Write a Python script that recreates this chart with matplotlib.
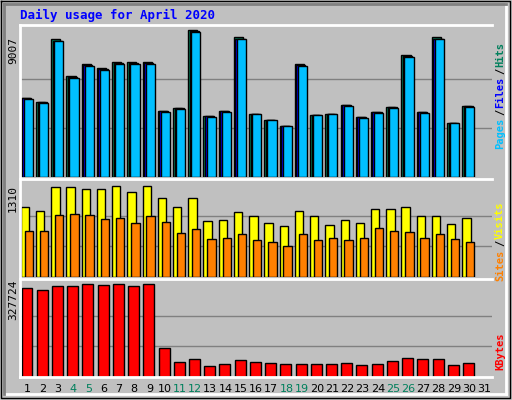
import numpy as np
import matplotlib.pyplot as plt

days = list(range(1, 32))
weekends = [4, 5, 11, 12, 18, 19, 25, 26]
hits = [4870, 4620, 8450, 6170, 6910, 6660, 7030, 7030, 7030, 4070, 4250, 9010,
        3760, 4070, 8570, 3890, 3520, 3150, 6910, 3830, 3890, 4440, 3700, 4010,
        4320, 7460, 4010, 8570, 3330, 4380]
files = [h * 0.99 for h in hits]
pages = [h * 0.985 for h in hits]
visits = [997, 940, 1282, 1282, 1254, 1254, 1296, 1211, 1296, 1125, 997, 1125,
          797, 812, 926, 869, 769, 726, 940, 869, 740, 812, 769, 969,
          969, 997, 869, 869, 755, 840]
sites = [655, 655, 883, 897, 883, 826, 840, 769, 869, 783, 627, 684,
         541, 555, 612, 527, 498, 441, 612, 527, 555, 527, 555, 697,
         655, 641, 555, 612, 541, 498]
kbytes = [316800, 309500, 324100, 324100, 331400, 327700, 331400, 324100, 331400,
          101900, 54600, 65500, 40000, 47300, 61900, 54600, 51000, 47300, 47300,
          47300, 47300, 51000, 43700, 47300, 58300, 69200, 65500, 65500, 43700, 51000]

W, H = 512, 400
fig = plt.figure(figsize=(W / 100, H / 100), dpi=100)
fig.patch.set_facecolor('#C0C0C0')
mono = 'DejaVu Sans Mono'

def ax_px(x0, y0, x1, y1):
    ax = fig.add_axes([x0 / W, 1 - y1 / H, (x1 - x0) / W, (y1 - y0) / H])
    ax.set_facecolor('#C0C0C0')
    ax.set_xlim(0.5, 31.5)
    ax.set_xticks([])
    ax.set_yticks([])
    for s in ax.spines.values():
        s.set_visible(False)
    for s in ['left', 'top']:
        ax.spines[s].set_visible(True)
        ax.spines[s].set_linewidth(2)
        ax.spines[s].set_color('white')
    return ax

x = np.arange(1, 31)
bl = dict(edgecolor='black', linewidth=1, align='edge')

# hits panel
a1 = ax_px(20, 25, 492, 177)
a1.set_ylim(0, 9007 * 151 / 146)
for g in [1 / 3, 2 / 3]:
    a1.axhline(9007 * g, color='#808080', lw=1, zorder=0)
a1.bar(x - 0.45, hits, width=0.6, color='#00805C', **bl)
a1.bar(x - 0.35, files, width=0.6, color='#0000FF', **bl)
a1.bar(x - 0.25, pages, width=0.6, color='#00BFFF', **bl)
fig.text(18 / W, 1 - 50 / H, '9007', rotation=90, ha='right', va='center', fontsize=8, family=mono)

# visits panel
a2 = ax_px(20, 179, 492, 277)
a2.set_ylim(0, 1310 * 98 / 92)
for g in [1 / 3, 2 / 3]:
    a2.axhline(1310 * g, color='#808080', lw=1, zorder=0)
a2.bar(x - 0.45, visits, width=0.55, color='#FFFF00', **bl)
a2.bar(x - 0.2, sites, width=0.55, color='#FF8000', **bl)
fig.text(18 / W, 1 - 198 / H, '1310', rotation=90, ha='right', va='center', fontsize=8, family=mono)

# kbytes panel
a3 = ax_px(20, 279, 492, 377)
a3.spines['bottom'].set_visible(True)
a3.spines['bottom'].set_color('white')
a3.spines['bottom'].set_linewidth(2)
a3.set_ylim(0, 327724 * 96 / 90)
for g in [1 / 3, 2 / 3]:
    a3.axhline(327724 * g, color='#808080', lw=1, zorder=0)
a3.bar(x - 0.4, kbytes, width=0.72, color='#FF0000', **bl)
fig.text(18 / W, 1 - 300 / H, '327724', rotation=90, ha='right', va='center', fontsize=8, family=mono)

for d in days:
    px = 20 + (d - 0.5) * 472 / 31
    fig.text(px / W, 1 - 389 / H, str(d), ha='center', va='center', fontsize=8,
             color='#00805C' if d in weekends else 'black')

fig.text(20 / W, 1 - 15 / H, 'Daily usage for April 2020', color='#0000FF',
         fontsize=9, family=mono, weight='bold', va='center')

def side(parts, yc):
    tot = sum(len(t) for t, c in parts)
    y = yc + tot * 3.4
    for t, c in parts:
        fig.text(500 / W, 1 - y / H, t, rotation=90, color=c, fontsize=7.5,
                 family=mono, weight='bold', ha='center', va='bottom')
        y -= len(t) * 6.9

side([('Pages', '#00BFFF'), ('/', 'black'), ('Files', '#0000FF'), ('/', 'black'), ('Hits', '#00805C')], 95)
side([('Sites', '#FF8000'), ('/', 'black'), ('Visits', '#FFFF00')], 240)
side([('KBytes', '#FF0000')], 350)

# outer bevel frame
fr = fig.add_axes([0, 0, 1, 1], facecolor='none')
fr.set_xlim(0, W); fr.set_ylim(H, 0); fr.axis('off')
fr.plot([1, W - 2, W - 2, 1, 1], [1, 1, H - 2, H - 2, 1], color='black', lw=1)
fr.plot([4, W - 6], [H - 6, H - 6], color='white', lw=2)
fr.plot([W - 6, W - 6], [4, H - 6], color='white', lw=2)
fr.plot([4, W - 6], [4, 4], color='#808080', lw=2)
fr.plot([4, 4], [4, H - 6], color='#808080', lw=2)

fig.savefig('out.png', dpi=100, facecolor=fig.get_facecolor())
